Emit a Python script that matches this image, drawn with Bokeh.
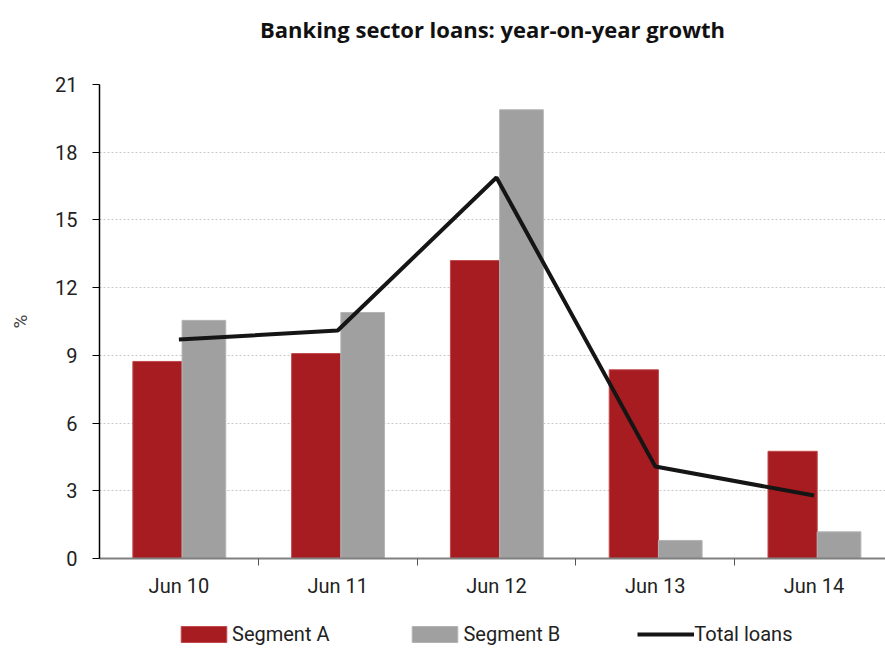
from bokeh.plotting import figure
from bokeh.layouts import column
from bokeh.models import (ColumnDataSource, FixedTicker, Legend, LegendItem, Range1d)
from bokeh.core.properties import value
from bokeh.transform import dodge
from bokeh.embed import file_html
from bokeh.resources import INLINE

categories = ["Jun 10", "Jun 11", "Jun 12", "Jun 13", "Jun 14"]
segment_a = [8.73, 9.08, 13.2, 8.36, 4.75]
segment_b = [10.55, 10.9, 19.88, 0.8, 1.18]
total_loans = [9.7, 10.1, 16.88, 4.08, 2.79]
y_ticks = [0, 3, 6, 9, 12, 15, 18, 21]
series_names = ["Segment A", "Segment B", "Total loans"]
chart_title = "Banking sector loans: year-on-year growth"

centers = [i + 0.5 for i in range(len(categories))]
src = ColumnDataSource(dict(x=centers, a=segment_a, b=segment_b, t=total_loans))

RED = "#A61C21"
GRAY = "#A0A0A0"
LINE = "#151515"

# title strip
tp = figure(width=885, height=56, output_backend="svg", toolbar_location=None,
            x_range=Range1d(0, 1), y_range=Range1d(0, 1),
            min_border_left=99, min_border_right=0, min_border_top=0, min_border_bottom=0)
tp.axis.visible = False
tp.grid.visible = False
tp.outline_line_color = None
tp.text(x=[0.5], y=[0.5], text=[chart_title], text_align="center", text_baseline="middle",
        text_font=value("Open Sans"), text_font_style="bold", text_font_size="22px",
        text_color="#111111")

p = figure(width=885, height=552, output_backend="svg", toolbar_location=None,
           x_range=Range1d(0, 4.95), y_range=Range1d(0, 21),
           min_border_left=99, min_border_right=0, min_border_top=28, min_border_bottom=50)
p.outline_line_color = None
p.background_fill_color = "white"
p.border_fill_color = "white"

p.vbar(x=dodge("x", -0.135, range=p.x_range), top="a", width=0.31, source=src,
       fill_color=RED, line_color="#c04a4d", line_width=1)
p.vbar(x=dodge("x", 0.1575, range=p.x_range), top="b", width=0.275, source=src,
       fill_color=GRAY, line_color="#b4b4b4", line_width=1)
p.line(x="x", y="t", source=src, line_color=LINE, line_width=4)

# axes
p.xgrid.grid_line_color = None
p.ygrid.grid_line_color = "#c8c8c8"
p.ygrid.grid_line_dash = "2 2"
p.ygrid.ticker = FixedTicker(ticks=y_ticks)

ya = p.yaxis[0]
ya.ticker = FixedTicker(ticks=y_ticks)
ya.axis_line_color = "black"
ya.axis_line_width = 1.5
ya.major_tick_in = 0
ya.major_tick_out = 7
ya.minor_tick_line_color = None
ya.major_label_text_font = "Roboto"
ya.major_label_text_font_size = "20px"
ya.major_label_text_color = "#222222"
ya.major_label_standoff = 15
ya.axis_label = "%"
ya.axis_label_text_font = "Roboto"
ya.axis_label_text_font_style = "normal"
ya.axis_label_text_font_size = "19px"
ya.axis_label_standoff = 20

xa = p.xaxis[0]
xa.ticker = FixedTicker(ticks=centers, minor_ticks=[1, 2, 3, 4])
xa.major_label_overrides = {c: lab for c, lab in zip(centers, categories)}
xa.axis_line_color = "#808080"
xa.axis_line_width = 2
xa.major_tick_line_color = None
xa.major_tick_in = 0
xa.major_tick_out = 0
xa.minor_tick_line_color = "#555555"
xa.minor_tick_in = 0
xa.minor_tick_out = 7
xa.major_label_text_font = "Roboto"
xa.major_label_text_font_size = "20px"
xa.major_label_text_color = "#222222"
xa.major_label_standoff = 8

# legend strip (glyphs kept off-view; only the legend is shown)
lg = figure(width=885, height=40, output_backend="svg", toolbar_location=None,
            x_range=Range1d(100, 101), y_range=Range1d(100, 101),
            min_border_left=99, min_border_right=0, min_border_top=0, min_border_bottom=0)
lg.axis.visible = False
lg.grid.visible = False
lg.outline_line_color = None
ga = lg.vbar(x="x", top="a", width=0.3, source=src, fill_color=RED, line_color="#c04a4d")
gb = lg.vbar(x="x", top="b", width=0.3, source=src, fill_color=GRAY, line_color="#b4b4b4")
gl = lg.line(x="x", y="t", source=src, line_color=LINE, line_width=4)
legend = Legend(items=[LegendItem(label=series_names[0], renderers=[ga]),
                       LegendItem(label=series_names[1], renderers=[gb]),
                       LegendItem(label=series_names[2], renderers=[gl])],
                orientation="horizontal", location=(76, 2),
                glyph_width=57, glyph_height=20, label_standoff=-4, spacing=77,
                label_text_font="Roboto", label_text_font_size="20px",
                label_text_color="#222222", border_line_color=None,
                background_fill_alpha=0, margin=0, padding=0)
lg.add_layout(legend, "center")

layout = column(tp, p, lg, spacing=0)
open("out.html", "w").write(file_html(layout, INLINE))
